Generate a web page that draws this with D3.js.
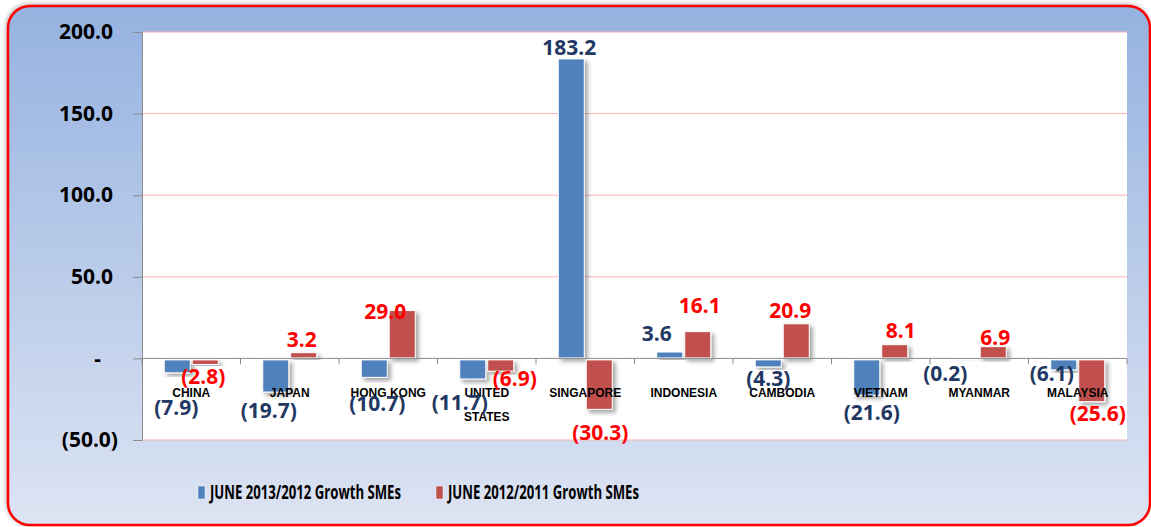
<!DOCTYPE html>
<html>
<head>
<meta charset="utf-8">
<script src="https://cdn.jsdelivr.net/npm/d3@7"></script>
<style>
  body { margin: 0; background: #ffffff; }
  svg { display: block; }
</style>
</head>
<body>
<svg id="chart"></svg>
<script>
// ── data ────────────────────────────────────────────────────────────────────
const categories = ["CHINA", "JAPAN", "HONG KONG", "UNITED STATES", "SINGAPORE", "INDONESIA", "CAMBODIA", "VIETNAM", "MYANMAR", "MALAYSIA"];
const seriesNames = ["JUNE 2013/2012 Growth SMEs", "JUNE 2012/2011 Growth SMEs"];
const growth2013 = [-7.9, -19.7, -10.7, -11.7, 183.2, 3.6, -4.3, -21.6, -0.2, -6.1];
const growth2012 = [-2.8, 3.2, 29.0, -6.9, -30.3, 16.1, 20.9, 8.1, 6.9, -25.6];
const yTicks = [-50, 0, 50, 100, 150, 200];

// data labels were hand-dragged in the source: [dx, dy] from the bar end
const labelNudge2013 = [[-1, 36], [-7, 20], [3, 28], [-13, 25], [-2, -12], [-13, -19], [0, 13], [5, 19], [-20, 15], [-12, 5]];
const labelNudge2012 = [[-2, 13], [-2, -14], [-17, 0], [14, 9], [1, 25], [2, -27], [-6, -14], [6, -15], [2, -10], [6, 13]];

// ── layout ──────────────────────────────────────────────────────────────────
const W = 1151, H = 527;
const plot = { left: 142, right: 1127, top: 32, bottom: 440 };
const colors = ["#4f81bd", "#c0504d"];
const labelColors = ["#1f3864", "#ff0000"];
const valueFont = "'Noto Sans', 'Open Sans', sans-serif";

const svg = d3.select("#chart").attr("width", W).attr("height", H);
const defs = svg.append("defs");

const bg = defs.append("linearGradient").attr("id", "bgGrad").attr("x1", 0).attr("y1", 0).attr("x2", 0).attr("y2", 1);
bg.append("stop").attr("offset", "0%").attr("stop-color", "#95b2e0");
bg.append("stop").attr("offset", "100%").attr("stop-color", "#dde4f3");

const barShadow = defs.append("filter").attr("id", "barShadow").attr("x", "-30%").attr("y", "-30%").attr("width", "160%").attr("height", "160%");
barShadow.append("feDropShadow").attr("dx", 3).attr("dy", 3).attr("stdDeviation", 2).attr("flood-color", "#000").attr("flood-opacity", 0.35);

const boxShadow = defs.append("filter").attr("id", "boxShadow").attr("x", "-5%").attr("y", "-5%").attr("width", "110%").attr("height", "110%");
boxShadow.append("feDropShadow").attr("dx", -1).attr("dy", -1).attr("stdDeviation", 2).attr("flood-color", "#000").attr("flood-opacity", 0.3);

// outer rounded frame
svg.append("rect").attr("x", 8).attr("y", 6).attr("width", 1142).attr("height", 519).attr("rx", 22)
  .attr("fill", "url(#bgGrad)").attr("stroke", "#ff0000").attr("stroke-width", 2.5).attr("filter", "url(#boxShadow)");

// plot area
svg.append("rect").attr("x", plot.left).attr("y", plot.top).attr("width", plot.right - plot.left).attr("height", plot.bottom - plot.top).attr("fill", "#ffffff");

const x0 = d3.scaleBand().domain(categories).range([plot.left, plot.right]).padding(0);
const half = x0.bandwidth() / 2;
const x1 = d3.scaleBand().domain([0, 1]).range([half - 27, half + 27]).paddingInner(0.07);
const y = d3.scaleLinear().domain([-50, 200]).range([plot.bottom, plot.top]);

const fmt1 = d3.format(".1f");
const fmtVal = v => v < 0 ? `(${fmt1(-v)})` : fmt1(v);
const fmtTick = v => v === 0 ? "-" : fmtVal(v);

// grid
svg.append("g").selectAll("line").data(yTicks.filter(d => d !== 0)).join("line")
  .attr("x1", plot.left).attr("x2", plot.right).attr("y1", d => y(d)).attr("y2", d => y(d))
  .attr("stroke", "#ffb0b0").attr("stroke-width", 1);

// y axis
const yAxis = svg.append("g").attr("transform", `translate(${plot.left},0)`)
  .call(d3.axisLeft(y).tickValues(yTicks).tickSize(9).tickFormat(fmtTick));
yAxis.select(".domain").attr("stroke", "#8c8c8c");
yAxis.selectAll(".tick line").attr("stroke", "#8c8c8c");
yAxis.selectAll(".tick text")
  .attr("x", d => d === 0 ? -41 : d < 0 ? -24 : -29)
  .attr("fill", "#000").style("font-family", valueFont).style("font-weight", "bold").style("font-size", "21px");

// bars
const series = [growth2013, growth2012];
const barData = categories.flatMap((c, i) => series.map((s, k) => ({ c, k, v: s[i], i })));

svg.append("g").selectAll("rect").data(barData).join("rect")
  .attr("x", d => x0(d.c) + x1(d.k)).attr("width", x1.bandwidth())
  .attr("y", d => y(Math.max(0, d.v)) + (d.v < 0 ? 1.5 : -0.5))
  .attr("height", d => Math.abs(y(d.v) - y(0)))
  .attr("fill", d => colors[d.k]).attr("stroke", "#ffffff").attr("stroke-width", 1)
  .attr("filter", "url(#barShadow)");

// x axis at zero
const xAxis = svg.append("g").attr("transform", `translate(0,${y(0)})`);
xAxis.append("line").attr("x1", plot.left).attr("x2", plot.right).attr("stroke", "#8c8c8c");
xAxis.selectAll("line.tick").data(categories.map(c => x0(c)).concat([plot.right])).join("line").attr("class", "tick")
  .attr("x1", d => d).attr("x2", d => d).attr("y1", 0).attr("y2", 6).attr("stroke", "#8c8c8c");

// category labels
const catLabels = svg.append("g").selectAll("text").data(categories).join("text")
  .attr("x", d => x0(d) + half).attr("y", 397)
  .attr("text-anchor", "middle").attr("fill", "#000")
  .style("font-family", "'Liberation Sans', Arial, sans-serif").style("font-weight", "bold").style("font-size", "12px");
catLabels.each(function (d) {
  const t = d3.select(this);
  const words = d.split(" ");
  t.text(d);
  if (this.getComputedTextLength() > 86 && words.length > 1) {
    t.text(null);
    words.forEach((w, j) => t.append("tspan").attr("x", x0(d) + half).attr("dy", j ? 24 : 0).text(w));
  }
});

// data labels
const nudges = [labelNudge2013, labelNudge2012];
svg.append("g").selectAll("text").data(barData).join("text")
  .attr("x", d => x0(d.c) + x1(d.k) + x1.bandwidth() / 2 + nudges[d.k][d.i][0])
  .attr("y", d => y(d.v) + nudges[d.k][d.i][1])
  .attr("dy", "0.36em").attr("text-anchor", "middle")
  .attr("fill", d => labelColors[d.k])
  .style("font-family", valueFont).style("font-weight", "bold").style("font-size", "21px")
  .text(d => fmtVal(d.v));

// legend
const legendX = [198, 436];
const legend = svg.append("g").selectAll("g").data(seriesNames).join("g")
  .attr("transform", (d, k) => `translate(${legendX[k]},486)`);
legend.append("rect").attr("width", 7).attr("height", 13).attr("fill", (d, k) => colors[k]).attr("stroke", "#ffffff").attr("stroke-width", 0.5);
legend.append("text").attr("x", 12).attr("y", 13).attr("fill", "#000")
  .attr("textLength", 191).attr("lengthAdjust", "spacingAndGlyphs")
  .style("font-family", "'Open Sans', sans-serif").style("font-weight", "bold").style("font-size", "19px")
  .text(d => d);
</script>
</body>
</html>
